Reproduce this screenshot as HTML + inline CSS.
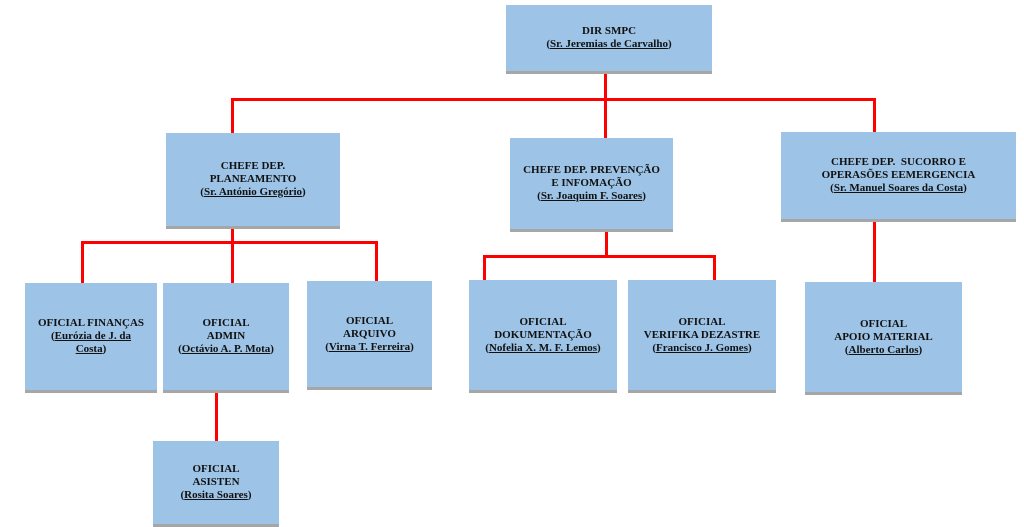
<!DOCTYPE html>
<html><head><meta charset="utf-8"><style>
body{margin:0;width:1024px;height:527px;background:#fff;position:relative;overflow:hidden;font-family:"Liberation Serif",serif}
.b{position:absolute;background:#9dc3e6;border-bottom:3px solid #a6a6a6;box-sizing:border-box;display:flex;align-items:center;justify-content:center;text-align:center;font-weight:bold;font-size:11px;line-height:13px;color:#111}
.b span{display:block}
.b u{text-decoration:underline}
.l{position:absolute;background:#f00}
</style></head><body>
<div class="l" style="left:604px;top:73px;width:3px;height:65px"></div>
<div class="l" style="left:231px;top:98px;width:645px;height:3px"></div>
<div class="l" style="left:231px;top:98px;width:3px;height:36px"></div>
<div class="l" style="left:873px;top:98px;width:3px;height:34px"></div>
<div class="l" style="left:231px;top:228px;width:3px;height:55px"></div>
<div class="l" style="left:81px;top:241px;width:297px;height:3px"></div>
<div class="l" style="left:81px;top:241px;width:3px;height:42px"></div>
<div class="l" style="left:375px;top:241px;width:3px;height:40px"></div>
<div class="l" style="left:215px;top:392px;width:3px;height:49px"></div>
<div class="l" style="left:605px;top:230px;width:3px;height:27px"></div>
<div class="l" style="left:483px;top:255px;width:233px;height:3px"></div>
<div class="l" style="left:483px;top:255px;width:3px;height:25px"></div>
<div class="l" style="left:713px;top:255px;width:3px;height:25px"></div>
<div class="l" style="left:873px;top:220px;width:3px;height:62px"></div>

<div class="b" style="left:506px;top:5px;width:206px;height:69px"><span>DIR SMPC<br>(<u>Sr. Jeremias de Carvalho</u>)</span></div>
<div class="b" style="left:166px;top:133px;width:174px;height:96px"><span>CHEFE DEP.<br>PLANEAMENTO<br>(<u>Sr. António Gregório</u>)</span></div>
<div class="b" style="left:510px;top:138px;width:163px;height:94px"><span>CHEFE DEP. PREVENÇÃO<br>E INFOMAÇÃO<br>(<u>Sr. Joaquim F. Soares</u>)</span></div>
<div class="b" style="left:781px;top:132px;width:235px;height:90px"><span>CHEFE DEP.&nbsp; SUCORRO E<br>OPERASÕES EEMERGENCIA<br>(<u>Sr. Manuel Soares da Costa</u>)</span></div>
<div class="b" style="left:25px;top:283px;width:132px;height:110px"><span>OFICIAL FINANÇAS<br>(<u>Eurózia de J. da<br>Costa</u>)</span></div>
<div class="b" style="left:163px;top:283px;width:126px;height:110px"><span>OFICIAL<br>ADMIN<br>(<u>Octávio A. P. Mota</u>)</span></div>
<div class="b" style="left:307px;top:281px;width:125px;height:109px"><span>OFICIAL<br>ARQUIVO<br>(<u>Virna T. Ferreira</u>)</span></div>
<div class="b" style="left:153px;top:441px;width:126px;height:86px"><span>OFICIAL<br>ASISTEN<br>(<u>Rosita Soares</u>)</span></div>
<div class="b" style="left:469px;top:280px;width:148px;height:113px"><span>OFICIAL<br>DOKUMENTAÇÃO<br>(<u>Nofelia X. M. F. Lemos</u>)</span></div>
<div class="b" style="left:628px;top:280px;width:148px;height:113px"><span>OFICIAL<br>VERIFIKA DEZASTRE<br>(<u>Francisco J. Gomes</u>)</span></div>
<div class="b" style="left:805px;top:282px;width:157px;height:113px"><span>OFICIAL<br>APOIO MATERIAL<br>(<u>Alberto Carlos</u>)</span></div>
</body></html>
